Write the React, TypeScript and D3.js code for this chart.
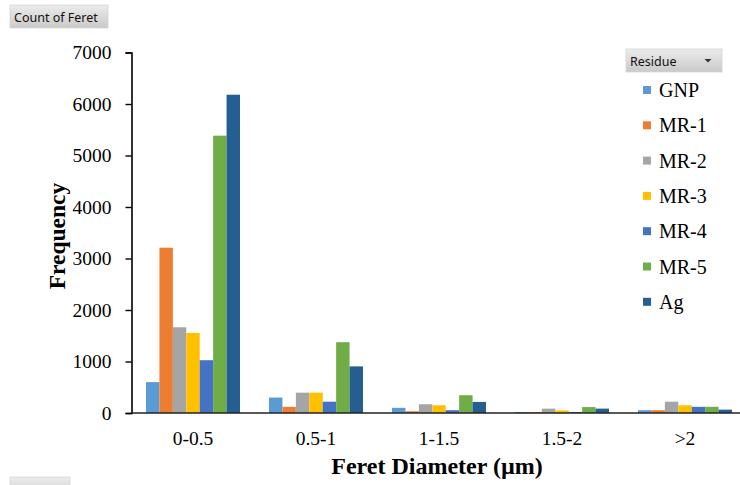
import { useEffect, useRef } from 'react';
import * as d3 from 'd3';

const categories = ['0-0.5', '0.5-1', '1-1.5', '1.5-2', '>2'];
const seriesNames = ['GNP', 'MR-1', 'MR-2', 'MR-3', 'MR-4', 'MR-5', 'Ag'];
const colors = ['#5B9BD5', '#ED7D31', '#A5A5A5', '#FFC000', '#4472C4', '#70AD47', '#255E91'];
// one array per series, values per category
const gnp = [600, 300, 100, 20, 55];
const mr1 = [3210, 120, 35, 20, 55];
const mr2 = [1665, 395, 170, 85, 220];
const mr3 = [1555, 395, 150, 50, 150];
const mr4 = [1025, 220, 55, 20, 120];
const mr5 = [5385, 1375, 345, 115, 120];
const ag = [6180, 905, 215, 85, 65];
const values = [gnp, mr1, mr2, mr3, mr4, mr5, ag];
const yTicks = [0, 1000, 2000, 3000, 4000, 5000, 6000, 7000];

const W = 740;
const H = 485;
const serif = '"Liberation Serif", "Times New Roman", serif';
const sans = '"Noto Sans", "Open Sans", sans-serif';

export default function App() {
  const ref = useRef<SVGSVGElement | null>(null);

  useEffect(() => {
    const svg = d3.select(ref.current);
    svg.selectAll('*').remove();

    const left = 131.5;
    const step = 123;
    const x0 = d3
      .scaleBand<string>()
      .domain(categories)
      .range([left, left + step * categories.length])
      .paddingInner(0.236)
      .paddingOuter(0.118);
    const x1 = d3.scaleBand<string>().domain(seriesNames).range([0, x0.bandwidth()]).padding(0);
    const y = d3.scaleLinear().domain([0, 7000]).range([413, 52.5]);

    const defs = svg.append('defs');
    const grad = defs
      .append('linearGradient')
      .attr('id', 'btn')
      .attr('x1', 0)
      .attr('y1', 0)
      .attr('x2', 0)
      .attr('y2', 1);
    grad.append('stop').attr('offset', '0%').attr('stop-color', '#ececec');
    grad.append('stop').attr('offset', '100%').attr('stop-color', '#c9c9c9');

    // bars
    const groups = svg
      .append('g')
      .selectAll('g')
      .data(categories)
      .join('g')
      .attr('transform', (c) => `translate(${x0(c)},0)`);
    groups
      .selectAll('rect')
      .data((c, ci) => seriesNames.map((s, si) => ({ s, v: values[si][ci], color: colors[si] })))
      .join('rect')
      .attr('x', (d) => x1(d.s) ?? 0)
      .attr('y', (d) => y(d.v))
      .attr('width', x1.bandwidth())
      .attr('height', (d) => y(0) - y(d.v))
      .attr('fill', (d) => d.color);

    // y axis
    const yAxis = d3
      .axisLeft(y)
      .tickValues(yTicks)
      .tickSize(6)
      .tickPadding(14)
      .tickFormat(d3.format('d'));
    const ya = svg.append('g').attr('transform', `translate(${left},0)`).call(yAxis);
    ya.select('.domain').attr('stroke', '#000').attr('stroke-width', 1.6);
    ya.selectAll('.tick line').attr('stroke', '#000').attr('stroke-width', 1.4);
    ya.selectAll('.tick text')
      .attr('font-family', serif)
      .attr('font-size', 19.5)
      .attr('fill', '#000');

    // x axis
    svg
      .append('line')
      .attr('x1', left)
      .attr('x2', W)
      .attr('y1', y(0))
      .attr('y2', y(0))
      .attr('stroke', '#222')
      .attr('stroke-width', 1.6);
    svg
      .append('g')
      .selectAll('text')
      .data(categories)
      .join('text')
      .attr('x', (c) => (x0(c) ?? 0) + x0.bandwidth() / 2)
      .attr('y', 445)
      .attr('text-anchor', 'middle')
      .attr('font-family', serif)
      .attr('font-size', 19.5)
      .text((c) => c);

    // titles
    svg
      .append('text')
      .attr('x', 437)
      .attr('y', 474)
      .attr('text-anchor', 'middle')
      .attr('font-family', serif)
      .attr('font-weight', 'bold')
      .attr('font-size', 24)
      .text('Feret Diameter (µm)');
    svg
      .append('text')
      .attr('transform', 'translate(65,236) rotate(-90)')
      .attr('text-anchor', 'middle')
      .attr('font-family', serif)
      .attr('font-weight', 'bold')
      .attr('font-size', 23.5)
      .text('Frequency');

    // pivot buttons
    const button = (bx: number, by: number, bw: number, label: string, arrow: boolean) => {
      const g = svg.append('g');
      g.append('rect')
        .attr('x', bx)
        .attr('y', by)
        .attr('width', bw)
        .attr('height', 23)
        .attr('fill', 'url(#btn)')
        .attr('stroke', '#d4d4d4')
        .attr('stroke-width', 0.8);
      g.append('text')
        .attr('x', bx + 4)
        .attr('y', by + 16.5)
        .attr('font-family', sans)
        .attr('font-size', 12.5)
        .attr('fill', '#111')
        .text(label);
      if (arrow) {
        const ax = bx + bw - 14;
        const ay = by + 10;
        g.append('path').attr('d', `M${ax - 3.5},${ay} L${ax + 3.5},${ay} L${ax},${ay + 3.5}Z`).attr('fill', '#333');
      }
    };
    button(10, 5, 98, 'Count of Feret', false);
    button(626, 49, 96, 'Residue', true);
    button(10, 477, 60, 'Feret', false);

    // legend
    const lg = svg
      .append('g')
      .selectAll('g')
      .data(seriesNames)
      .join('g')
      .attr('transform', (_, i) => `translate(643,${90 + i * 35.3})`);
    lg.append('rect')
      .attr('x', 0)
      .attr('y', -4)
      .attr('width', 8)
      .attr('height', 8)
      .attr('fill', (_, i) => colors[i]);
    lg.append('text')
      .attr('x', 16)
      .attr('y', 7)
      .attr('font-family', serif)
      .attr('font-size', 20)
      .attr('fill', '#000')
      .text((d) => d);
  }, []);

  return (
    <svg
      ref={ref}
      width={W}
      height={H}
      style={{ position: 'fixed', left: 0, top: 0, background: '#fff' }}
    />
  );
}
